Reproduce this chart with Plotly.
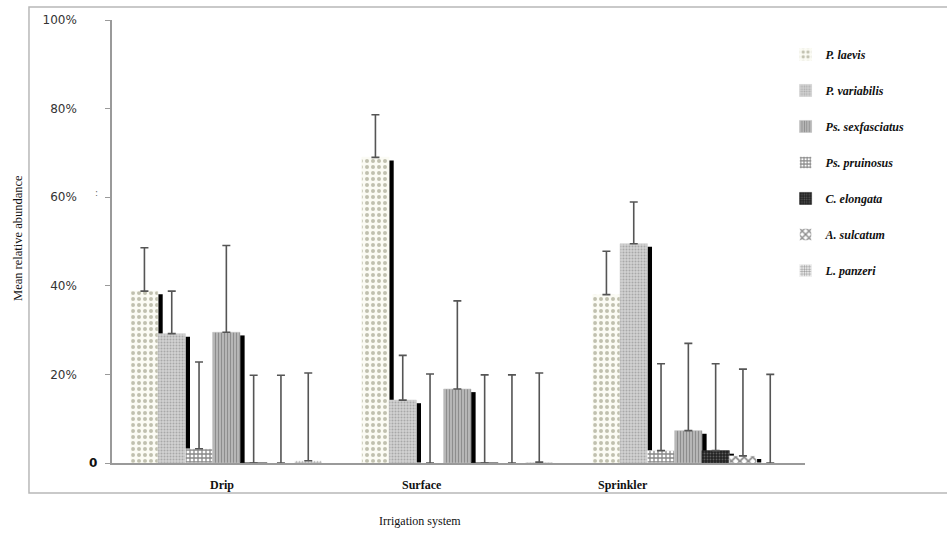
import plotly.graph_objects as go

# ---------------- data ----------------
categories = ["Drip", "Surface", "Sprinkler"]
# bar order inside each group (left -> right)
species = ["P. laevis", "P. variabilis", "Ps. pruinosus", "Ps. sexfasciatus",
           "C. elongata", "A. sulcatum", "L. panzeri"]
legend_order = [1, 2, 4, 3, 5, 6, 7]

# mean relative abundance (%) per species: [Drip, Surface, Sprinkler]
p_laevis         = [38.8, 69.0, 38.0]
p_variabilis     = [29.2, 14.2, 49.5]
ps_pruinosus     = [3.2, 0.0, 2.8]
ps_sexfasciatus  = [29.5, 16.7, 7.3]
c_elongata       = [0.0, 0.0, 2.8]
a_sulcatum       = [0.0, 0.0, 1.6]
l_panzeri        = [0.5, 0.2, 0.0]

# upper error (%)
err_p_laevis        = [9.8, 9.6, 9.8]
err_p_variabilis    = [9.6, 10.1, 9.4]
err_ps_pruinosus    = [19.6, 20.1, 19.6]
err_ps_sexfasciatus = [19.6, 19.9, 19.7]
err_c_elongata      = [19.8, 19.9, 19.6]
err_a_sulcatum      = [19.8, 19.9, 19.6]
err_l_panzeri       = [19.8, 20.1, 20.0]

y_tickvals = [0, 20, 40, 60, 80, 100]
y_ticktext = ["", "20%", "40%", "60%", "80%", "100%"]

values = [p_laevis, p_variabilis, ps_pruinosus, ps_sexfasciatus,
          c_elongata, a_sulcatum, l_panzeri]
errors = [err_p_laevis, err_p_variabilis, err_ps_pruinosus, err_ps_sexfasciatus,
          err_c_elongata, err_a_sulcatum, err_l_panzeri]

# ---------------- styles ----------------
patterns = [
    dict(shape=".", bgcolor="#fbfbf4", fgcolor="#86866a", size=6, solidity=0.35),
    dict(shape=".", bgcolor="#d2d2d2", fgcolor="#7e7e7e", size=3, solidity=0.35),
    dict(shape="+", bgcolor="#ffffff", fgcolor="#111111", size=4, solidity=0.55),
    dict(shape="|", bgcolor="#c4c4c4", fgcolor="#555555", size=3, solidity=0.5),
    dict(shape=".", bgcolor="#222222", fgcolor="#9a9a9a", size=3, solidity=0.3),
    dict(shape="x", bgcolor="#ffffff", fgcolor="#111111", size=6, solidity=0.5),
    dict(shape=".", bgcolor="#ffffff", fgcolor="#333333", size=3, solidity=0.5),
]

slot = 0.1182
group_left = -0.4137
shadow_w = 0.02
shadow_drop = 0.7

fig = go.Figure()
for i, (name, vals, errs, pat) in enumerate(zip(species, values, errors, patterns)):
    off = group_left + i * slot
    # 3-D style shadow strip (drawn first so the next bar covers it)
    fig.add_trace(go.Bar(
        x=categories, y=[max(v - shadow_drop, 0) for v in vals],
        offset=off + slot, width=shadow_w,
        marker=dict(color="#000000", line=dict(width=0)),
        showlegend=False, hoverinfo="skip"))
    fig.add_trace(go.Bar(
        x=categories, y=vals, name=name,
        offset=off, width=slot,
        legendgroup=name, legendrank=legend_order[i] * 100,
        marker=dict(color=pat["bgcolor"], pattern=pat,
                    line=dict(width=0.6, color=pat["bgcolor"])),
        error_y=dict(type="data", symmetric=False, array=errs,
                     arrayminus=[0] * len(errs),
                     color="#555555", thickness=1.6, width=4)))

serif = "Liberation Serif"
sans = "DejaVu Sans"

fig.update_layout(
    width=947, height=533,
    margin=dict(l=112, r=142, t=20, b=70),
    barmode="overlay",
    paper_bgcolor="white", plot_bgcolor="white",
    showlegend=True,
    legend=dict(x=0.972, y=0.955, xanchor="left", yanchor="top",
                font=dict(family=serif, size=12, color="#111111",
                          weight="bold", style="italic"),
                bgcolor="rgba(0,0,0,0)", tracegroupgap=17,
                traceorder="grouped"),
    xaxis=dict(range=[-0.495, 2.505], showticklabels=False, ticks="",
               showline=True, linecolor="#9a9a9a", linewidth=1.5,
               showgrid=False, zeroline=False, fixedrange=True),
    yaxis=dict(range=[0, 100], tickvals=y_tickvals, ticktext=y_ticktext,
               ticks="outside", ticklen=5, tickcolor="#9a9a9a",
               showline=True, linecolor="#9a9a9a", linewidth=1.5,
               showgrid=False, zeroline=False,
               tickfont=dict(family=sans, size=12, color="#333333"),
               ticklabelstandoff=26),
)

# outer frame
fig.add_shape(type="rect", xref="paper", yref="paper",
              x0=-0.1198, x1=1.25, y0=-0.0677, y1=1.0293,
              line=dict(color="#b8b8b8", width=1.5))

# category labels
label_shift = [-4, -35, -65]
for c, s in zip(categories, label_shift):
    fig.add_annotation(x=c, y=0, xref="x", yref="y", yshift=-22, xshift=s,
                       text="<b>" + c + "</b>", showarrow=False,
                       xanchor="center",
                       font=dict(family=serif, size=12, color="#111111"))

# zero tick label
fig.add_annotation(x=-0.0274, y=0, xref="paper", yref="y", text="<b>0</b>",
                   showarrow=False, xanchor="center",
                   font=dict(family=sans, size=12, color="#111111"))
# stray mark
fig.add_annotation(x=-0.023, y=0.609, xref="paper", yref="paper", text=":",
                   showarrow=False, xanchor="center",
                   font=dict(family=sans, size=9, color="#666666"))
# axis titles
fig.add_annotation(x=-0.1356, y=0.508, xref="paper", yref="paper",
                   text="Mean relative abundance", textangle=-90, showarrow=False,
                   xanchor="center", yanchor="middle",
                   font=dict(family=serif, size=12.5, color="#111111"))
fig.add_annotation(x=0.4444, y=-0.131, xref="paper", yref="paper",
                   text="Irrigation system", showarrow=False,
                   xanchor="center", yanchor="middle",
                   font=dict(family=serif, size=12, color="#111111"))

fig.write_html("out.html",
               config={"displayModeBar": False},
               post_script="document.body.style.margin='0px';")
